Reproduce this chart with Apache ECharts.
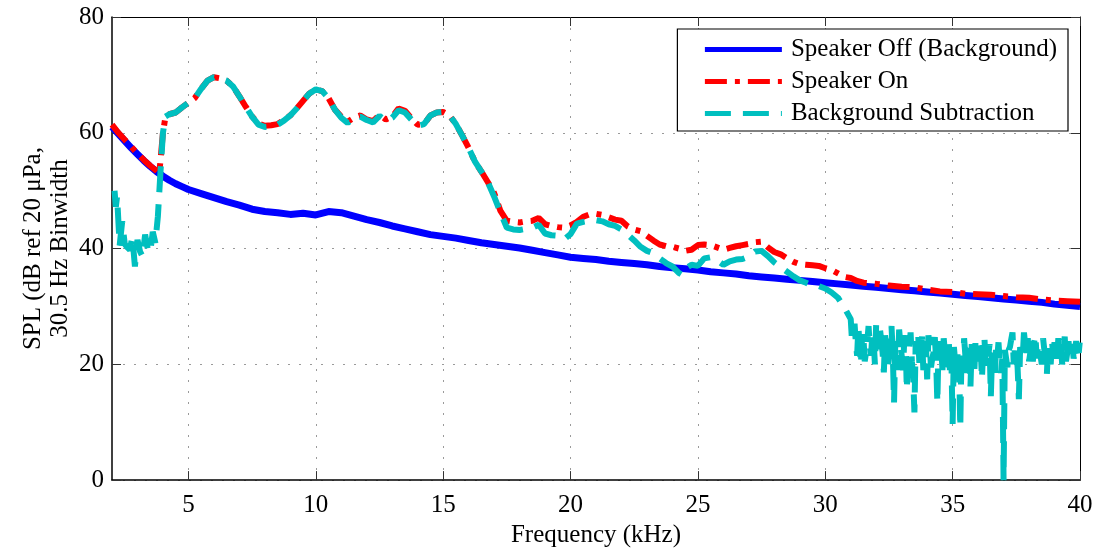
<!DOCTYPE html>
<html>
<head>
<meta charset="utf-8">
<script src="https://cdn.jsdelivr.net/npm/echarts@6/dist/echarts.min.js"></script>
<style>
html,body{margin:0;padding:0;background:#fff;}
#chart{width:1099px;height:553px;}
</style>
</head>
<body>
<div id="chart"></div>
<script>
// ---- Data ----
const xTickValues = [5, 10, 15, 20, 25, 30, 35, 40];
const yTickValues = [0, 20, 40, 60, 80];

const seriesNames = ['Speaker Off (Background)', 'Speaker On', 'Background Subtraction'];

// Speaker Off (Background)
const bgFreq = [2.0,2.25,2.5,2.75,3.0,3.25,3.5,3.75,4.0,4.25,4.5,4.75,5.0,5.5,6.0,6.5,7.0,7.5,8.0,8.5,9.0,9.5,10.0,10.5,11.0,11.5,12.0,12.5,13.0,13.5,14.0,14.5,15.0,15.5,16.0,16.5,17.0,17.5,18.0,18.5,19.0,19.5,20.0,20.5,21.0,21.5,22.0,22.5,23.0,23.5,24.0,24.5,25.0,25.5,26.0,26.5,27.0,27.5,28.0,28.5,29.0,29.5,30.0,30.5,31.0,31.5,32.0,32.5,33.0,33.5,34.0,34.5,35.0,35.5,36.0,36.5,37.0,37.5,38.0,38.5,39.0,39.5,40.0];
const bgSpl = [61.0,59.8,58.6,57.4,56.3,55.2,54.2,53.3,52.5,51.8,51.2,50.7,50.2,49.5,48.8,48.1,47.5,46.8,46.4,46.2,45.9,46.1,45.8,46.4,46.2,45.6,45.0,44.5,43.9,43.4,42.9,42.4,42.1,41.8,41.4,41.0,40.7,40.4,40.1,39.7,39.3,38.9,38.5,38.3,38.1,37.8,37.6,37.4,37.2,36.9,36.7,36.5,36.3,36.0,35.8,35.6,35.3,35.1,34.9,34.7,34.5,34.3,34.1,33.9,33.7,33.5,33.3,33.1,32.9,32.7,32.5,32.3,32.1,31.9,31.7,31.5,31.3,31.1,30.9,30.7,30.4,30.2,30.0];

// Speaker On
const onFreq = [2.0,2.25,2.5,2.75,3.0,3.25,3.5,3.75,3.85,3.9,4.0,4.1,4.25,4.5,4.75,5.0,5.25,5.5,5.75,6.0,6.25,6.5,6.75,7.0,7.25,7.5,7.75,8.0,8.25,8.5,8.75,9.0,9.25,9.5,9.75,10.0,10.25,10.5,10.75,11.0,11.25,11.5,11.75,12.0,12.25,12.5,12.75,13.0,13.25,13.5,13.75,14.0,14.25,14.5,14.75,15.0,15.25,15.5,15.75,16.0,16.25,16.5,16.75,17.0,17.25,17.5,17.75,18.0,18.25,18.5,18.75,19.0,19.25,19.5,19.75,20.0,20.25,20.5,20.75,21.0,21.25,21.5,21.75,22.0,22.25,22.5,22.75,23.0,23.25,23.5,23.75,24.0,24.25,24.5,24.75,25.0,25.25,25.5,25.75,26.0,26.25,26.5,26.75,27.0,27.25,27.5,27.75,28.0,28.25,28.5,28.75,29.0,29.25,29.5,29.75,30.0,30.25,30.5,30.75,31.0,31.25,31.5,31.75,32.0,32.5,33.0,33.5,34.0,34.5,35.0,35.5,36.0,36.5,37.0,37.5,38.0,38.5,39.0,39.5,40.0];
const onSpl = [61.4,60.0,58.8,57.6,56.4,55.3,54.3,53.4,53.0,55.0,60.0,62.8,63.2,63.5,64.4,65.2,66.0,67.6,69.0,69.6,69.4,69.0,68.0,66.3,64.5,62.8,61.6,61.2,61.3,61.5,62.2,63.0,64.2,65.5,66.8,67.5,67.2,66.0,64.0,62.8,61.9,62.6,63.0,62.3,62.0,63.1,62.3,62.8,64.2,63.8,62.5,61.4,61.5,63.0,63.5,63.6,63.0,61.5,59.5,57.4,55.0,53.3,51.5,49.6,46.5,44.8,44.6,44.5,44.7,44.8,45.3,44.2,43.9,43.7,43.6,44.0,44.6,45.5,45.9,46.0,45.8,45.4,45.0,44.8,43.8,43.3,43.0,42.2,41.4,40.7,40.4,40.3,40.0,39.6,39.8,40.6,40.7,40.6,40.2,39.8,40.1,40.4,40.6,40.8,41.1,41.2,40.2,39.4,39.0,38.3,37.7,37.3,37.2,37.1,37.0,36.6,36.3,35.7,35.1,34.9,34.4,34.1,34.0,33.9,33.6,33.4,33.3,32.9,32.6,32.5,32.2,32.1,32.0,31.8,31.6,31.5,31.2,31.0,30.9,30.8];

// Background Subtraction: 2.1 – 30.75 kHz
const subFreqA = [2.1,2.15,2.2,2.3,2.4,2.5,2.6,2.7,2.8,2.9,3.0,3.1,3.2,3.3,3.4,3.5,3.6,3.7,3.8,3.9,4.0,4.1,4.25,4.5,4.75,5.0,5.25,5.5,5.75,6.0,6.25,6.5,6.75,7.0,7.25,7.5,7.75,8.0,8.25,8.5,8.75,9.0,9.25,9.5,9.75,10.0,10.25,10.5,10.75,11.0,11.25,11.5,11.75,12.0,12.25,12.5,12.75,13.0,13.25,13.5,13.75,14.0,14.25,14.5,14.75,15.0,15.25,15.5,15.75,16.0,16.25,16.5,16.75,17.0,17.25,17.5,17.75,18.0,18.25,18.5,18.75,19.0,19.25,19.5,19.75,20.0,20.25,20.5,20.75,21.0,21.25,21.5,21.75,22.0,22.25,22.5,22.75,23.0,23.25,23.5,23.75,24.0,24.25,24.4,24.6,24.75,25.0,25.25,25.5,25.75,26.0,26.25,26.5,26.75,27.0,27.25,27.5,27.75,28.0,28.25,28.5,28.75,29.0,29.25,29.5,29.75,30.0,30.25,30.5,30.75];
const subSplA = [50.0,47.2,49.0,40.5,44.7,40.8,40.2,39.8,42.0,36.9,41.5,39.5,38.6,42.4,40.0,39.3,42.9,41.0,45.5,53.0,60.0,62.8,63.2,63.5,64.4,65.2,66.0,67.6,69.0,69.6,69.4,69.0,68.0,66.3,64.5,62.8,61.4,61.0,61.1,61.4,62.1,63.0,64.2,65.5,66.8,67.5,67.2,66.0,64.0,62.6,61.7,62.5,62.8,62.2,61.8,62.9,62.1,62.6,63.9,63.5,62.3,61.2,61.5,63.0,63.5,63.6,63.0,61.5,59.5,57.4,55.0,53.3,51.5,49.0,46.2,43.6,43.3,43.2,43.4,43.6,44.1,42.6,42.3,42.2,41.6,42.5,44.3,44.6,44.8,44.9,44.7,44.2,43.9,43.3,42.4,41.4,40.3,39.6,39.2,38.3,37.5,36.9,35.8,35.4,36.8,37.2,37.0,38.3,38.5,38.0,37.2,37.8,38.1,38.2,38.6,39.5,39.6,38.7,37.6,36.8,36.0,35.2,34.5,34.1,33.6,33.5,33.1,32.4,31.5,29.8];
// Background Subtraction: noisy part 31.0 – 40.0 kHz
const subFreqB = [31.0,31.05,31.1,31.15,31.2,31.25,31.3,31.35,31.4,31.45,31.5,31.55,31.6,31.65,31.7,31.75,31.8,31.85,31.9,31.95,32.0,32.05,32.1,32.15,32.2,32.25,32.3,32.35,32.4,32.45,32.5,32.55,32.6,32.65,32.7,32.75,32.8,32.85,32.9,32.95,33.0,33.05,33.1,33.15,33.2,33.25,33.3,33.35,33.4,33.45,33.5,33.55,33.6,33.65,33.7,33.75,33.8,33.85,33.9,33.95,34.0,34.05,34.1,34.15,34.2,34.25,34.3,34.35,34.4,34.45,34.5,34.55,34.6,34.65,34.7,34.75,34.8,34.85,34.9,34.95,35.0,35.05,35.1,35.15,35.2,35.25,35.3,35.35,35.4,35.45,35.5,35.55,35.6,35.65,35.7,35.75,35.8,35.85,35.9,35.95,36.0,36.05,36.1,36.15,36.2,36.25,36.3,36.35,36.4,36.45,36.5,36.55,36.6,36.65,36.7,36.75,36.8,36.85,36.9,36.95,37.0,37.05,37.1,37.15,37.2,37.25,37.3,37.35,37.4,37.45,37.5,37.55,37.6,37.65,37.7,37.75,37.8,37.85,37.9,37.95,38.0,38.05,38.1,38.15,38.2,38.25,38.3,38.35,38.4,38.45,38.5,38.55,38.6,38.65,38.7,38.75,38.8,38.85,38.9,38.95,39.0,39.05,39.1,39.15,39.2,39.25,39.3,39.35,39.4,39.45,39.5,39.55,39.6,39.65,39.7,39.75,39.8,39.85,39.9,39.95,40.0];
const subSplB = [27.8,24.0,25.5,27.0,23.8,21.5,26.5,23.0,20.0,25.5,24.5,20.5,22.0,24.0,26.6,23.0,21.5,25.5,24.0,20.0,27.2,24.5,22.6,26.0,25.8,22.0,18.6,25.0,23.5,19.5,21.0,24.5,26.6,22.0,13.4,24.0,22.0,19.0,26.0,23.5,21.5,19.0,24.0,25.0,15.7,22.0,23.0,25.5,20.5,18.0,11.7,24.0,22.5,25.0,19.5,21.5,24.8,19.0,21.0,24.0,17.4,25.0,23.5,19.5,21.0,22.0,24.7,21.0,13.4,24.0,22.0,23.5,19.0,24.5,24.3,19.5,21.5,24.0,18.0,21.0,9.7,23.0,20.5,17.0,22.6,21.0,9.1,22.0,19.0,24.5,21.5,18.5,23.8,21.5,16.2,23.5,21.0,18.5,24.3,22.0,20.5,24.0,23.0,17.5,22.6,24.5,19.5,22.5,21.5,23.5,14.5,22.0,20.5,17.5,22.5,21.0,23.8,20.5,18.5,21.0,0.0,22.5,21.0,19.5,22.5,23.0,24.3,25.5,20.0,23.0,22.5,19.5,14.0,23.0,21.5,21.0,25.5,23.5,22.0,24.5,20.5,22.0,24.0,20.5,23.8,25.0,21.0,23.0,23.5,21.5,20.0,24.5,22.5,22.0,18.3,23.5,21.5,20.0,24.0,21.5,23.8,22.5,21.0,24.5,22.5,23.5,20.0,22.0,24.8,20.5,22.0,24.0,21.5,22.5,23.5,21.0,20.9,24.0,22.5,22.0,24.3];

function pairs(xs, ys) { return xs.map((x, i) => [x, ys[i]]); }

const FONT = '"Liberation Serif", "DejaVu Serif", serif';
const FS = 25;
const chart = echarts.init(document.getElementById('chart'), null, {renderer: 'canvas'});

const gridLine = {show: true, lineStyle: {color: '#9a9a9a', width: 1, type: [2, 9]}};

const option = {
  animation: false,
  backgroundColor: '#ffffff',
  grid: {left: 112, right: 19, top: 17, bottom: 72, containLabel: false},
  legend: {
    data: seriesNames,
    orient: 'vertical',
    right: 31, top: 29,
    itemWidth: 77, itemHeight: 14, itemGap: 5,
    padding: [7, 11, 4, 25],
    backgroundColor: '#ffffff',
    borderColor: '#000', borderWidth: 1.2, borderRadius: 0,
    itemStyle: {opacity: 0},
    lineStyle: {width: 5},
    textStyle: {fontFamily: FONT, fontSize: FS, color: '#000', lineHeight: 27, padding: [0, 0, 0, 4]},
    selectedMode: false
  },
  xAxis: [{
    type: 'value', min: 2, max: 40, position: 'bottom',
    name: 'Frequency (kHz)', nameLocation: 'middle', nameGap: 42,
    nameTextStyle: {fontFamily: FONT, fontSize: FS, color: '#000'},
    axisLine: {show: true, onZero: false, lineStyle: {color: '#000', width: 1.5}},
    axisTick: {show: true, inside: true, length: 9, customValues: xTickValues, lineStyle: {color: '#333', width: 1}},
    axisLabel: {show: true, customValues: xTickValues, margin: 13, fontFamily: FONT, fontSize: FS, color: '#000'},
    splitLine: gridLine
  }, {
    type: 'value', min: 2, max: 40, position: 'top',
    axisLine: {show: true, onZero: false, lineStyle: {color: '#000', width: 1}},
    axisTick: {show: true, inside: true, length: 9, customValues: xTickValues, lineStyle: {color: '#333', width: 1}},
    axisLabel: {show: false},
    splitLine: {show: false}
  }],
  yAxis: [{
    type: 'value', min: 0, max: 80, interval: 20, position: 'left',
    name: 'SPL (dB ref 20 μPa,\n30.5 Hz Binwidth', nameLocation: 'middle', nameGap: 38, nameRotate: 90,
    nameMoveOverlap: false,
    nameTextStyle: {fontFamily: FONT, fontSize: FS, color: '#000', lineHeight: 27, align: 'center'},
    axisLine: {show: true, onZero: false, lineStyle: {color: '#000', width: 1.5}},
    axisTick: {show: true, inside: true, length: 9, lineStyle: {color: '#333', width: 1}},
    axisLabel: {show: true, margin: 8, fontFamily: FONT, fontSize: FS, color: '#000'},
    splitLine: gridLine
  }, {
    type: 'value', min: 0, max: 80, interval: 20, position: 'right',
    axisLine: {show: true, onZero: false, lineStyle: {color: '#000', width: 1}},
    axisTick: {show: true, inside: true, length: 9, lineStyle: {color: '#333', width: 1}},
    axisLabel: {show: false},
    splitLine: {show: false}
  }],
  series: [{
    name: seriesNames[0], type: 'line', xAxisIndex: 0, yAxisIndex: 0,
    data: pairs(bgFreq, bgSpl), symbol: 'none', showSymbol: false, clip: true,
    lineStyle: {color: '#0000ff', width: 7, type: 'solid'},
    itemStyle: {color: '#0000ff'}, z: 2
  }, {
    name: seriesNames[1], type: 'line', xAxisIndex: 0, yAxisIndex: 0,
    data: pairs(onFreq, onSpl), symbol: 'none', showSymbol: false, clip: true,
    lineStyle: {color: '#ff0000', width: 6, type: [22, 8, 5, 8]},
    itemStyle: {color: '#ff0000'}, z: 3
  }, {
    name: seriesNames[2], type: 'line', xAxisIndex: 0, yAxisIndex: 0,
    data: pairs(subFreqA.concat(subFreqB), subSplA.concat(subSplB)), symbol: 'none', showSymbol: false, clip: true,
    lineStyle: {color: '#00bfbf', width: 6, type: [26, 12]},
    itemStyle: {color: '#00bfbf'}, z: 4
  }]
};
chart.setOption(option);
</script>
</body>
</html>
